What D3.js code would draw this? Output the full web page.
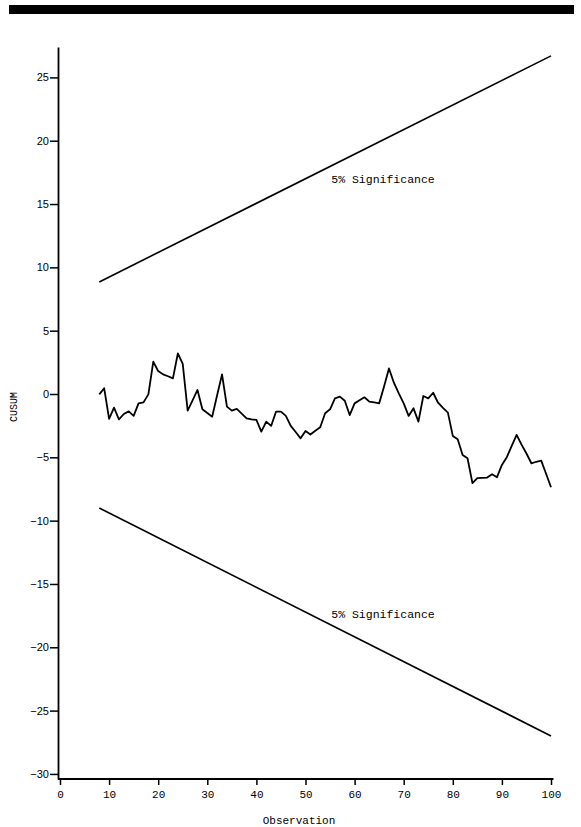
<!DOCTYPE html>
<html>
<head>
<meta charset="utf-8">
<script src="https://cdn.jsdelivr.net/npm/d3@7"></script>
<style>
  body { margin: 0; background: #fff; }
  svg { display: block; }
</style>
</head>
<body>
<svg id="area" width="581" height="827"></svg>
<script>
// observation numbers and CUSUM values
const observations = [
  8, 9, 10, 11, 12, 13, 14, 15, 16, 17, 18, 19, 20, 21, 22, 23, 24, 25, 26, 27,
  28, 29, 30, 31, 32, 33, 34, 35, 36, 37, 38, 39, 40, 41, 42, 43, 44, 45, 46, 47,
  48, 49, 50, 51, 52, 53, 54, 55, 56, 57, 58, 59, 60, 61, 62, 63, 64, 65, 66, 67,
  68, 69, 70, 71, 72, 73, 74, 75, 76, 77, 78, 79, 80, 81, 82, 83, 84, 85, 86, 87,
  88, 89, 90, 91, 92, 93, 94, 95, 96, 97, 98, 99, 100,
];
const cusum = [
  -0.03, 0.45, -1.97, -1.08, -2.0, -1.58, -1.37, -1.73, -0.74, -0.66,
  -0.03, 2.55, 1.81, 1.55, 1.4, 1.24, 3.2, 2.37, -1.31, -0.5,
  0.32, -1.21, -1.5, -1.79, -0.1, 1.55, -1.0, -1.31, -1.18, -1.55,
  -1.92, -2.0, -2.05, -2.97, -2.18, -2.52, -1.39, -1.39, -1.73, -2.52,
  -3.0, -3.5, -2.92, -3.2, -2.9, -2.63, -1.52, -1.21, -0.34, -0.21,
  -0.53, -1.66, -0.74, -0.5, -0.26, -0.6, -0.67, -0.74, 0.6, 2.02,
  0.89, 0.05, -0.74, -1.73, -1.13, -2.18, -0.16, -0.34, 0.1, -0.69,
  -1.1, -1.47, -3.31, -3.57, -4.81, -5.07, -7.04, -6.65, -6.62, -6.6,
  -6.33, -6.57, -5.6, -4.99, -4.1, -3.23, -4.0, -4.7, -5.47, -5.35,
  -5.26, -6.3, -7.36,
];

// 5% significance bounds (straight lines, end points)
const boundObs = [8, 100];
const upperBound = [8.85, 26.7];
const lowerBound = [-9.0, -27.0];

const xTicks = [0, 10, 20, 30, 40, 50, 60, 70, 80, 90, 100];
const yTicks = [-30, -25, -20, -15, -10, -5, 0, 5, 10, 15, 20, 25];

const svg = d3.select('#area');

// black bar across the top of the page
svg.append('rect')
  .attr('x', 9)
  .attr('y', 5)
  .attr('width', 565)
  .attr('height', 9)
  .attr('fill', '#000');

const x = d3.scaleLinear()
  .domain([0, 100])
  .range([60, 551]);
const y = d3.scaleLinear()
  .domain([-30.4, 27.4])
  .range([779, 47]);

const axisX = 58;
const axisY = 779;

// y axis
const yAxis = d3.axisLeft(y)
  .tickValues(yTicks)
  .tickSize(8)
  .tickSizeOuter(0)
  .tickFormat((d) => (d < 0 ? `\u2212${-d}` : `${d}`));

const gy = svg.append('g')
  .attr('transform', `translate(${axisX},0)`)
  .call(yAxis);
gy.select('.domain').attr('stroke-width', 1.8);
gy.selectAll('.tick line').attr('stroke-width', 1.5);
gy.selectAll('.tick text')
  .attr('x', -9)
  .style('font-family', '"Liberation Sans", Arial, sans-serif')
  .style('font-size', '11px')
  .attr('fill', '#000');

// x axis
const xAxis = d3.axisBottom(x)
  .tickValues(xTicks)
  .tickSize(6)
  .tickSizeOuter(0);

const gx = svg.append('g')
  .attr('transform', `translate(0,${axisY})`)
  .call(xAxis);
gx.select('.domain').remove();
gx.selectAll('.tick line').attr('stroke-width', 1.5);
gx.selectAll('.tick text')
  .attr('y', 11)
  .style('font-family', '"Liberation Mono", "DejaVu Sans Mono", monospace')
  .style('font-size', '11px')
  .attr('fill', '#000');

svg.append('line')
  .attr('x1', axisX)
  .attr('x2', x(100.5))
  .attr('y1', axisY)
  .attr('y2', axisY)
  .attr('stroke', '#000')
  .attr('stroke-width', 1.8);

// axis titles
svg.append('text')
  .attr('x', 299)
  .attr('y', 824)
  .attr('text-anchor', 'middle')
  .style('font-family', '"Liberation Mono", "DejaVu Sans Mono", monospace')
  .style('font-size', '11px')
  .text('Observation');

svg.append('text')
  .attr('transform', 'translate(17,407) rotate(-90)')
  .attr('text-anchor', 'middle')
  .style('font-family', '"Liberation Mono", "DejaVu Sans Mono", monospace')
  .style('font-size', '10px')
  .text('CUSUM');

// significance bounds
const line = d3.line()
  .x((d) => x(d[0]))
  .y((d) => y(d[1]));

[upperBound, lowerBound].forEach((b) => {
  svg.append('path')
    .attr('d', line(boundObs.map((o, i) => [o, b[i]])))
    .attr('fill', 'none')
    .attr('stroke', '#000')
    .attr('stroke-width', 1.6);
});

svg.append('text')
  .attr('x', 383)
  .attr('y', 183)
  .attr('text-anchor', 'middle')
  .style('font-family', '"Liberation Mono", "DejaVu Sans Mono", monospace')
  .style('font-size', '11.5px')
  .text('5% Significance');

svg.append('text')
  .attr('x', 383)
  .attr('y', 618)
  .attr('text-anchor', 'middle')
  .style('font-family', '"Liberation Mono", "DejaVu Sans Mono", monospace')
  .style('font-size', '11.5px')
  .text('5% Significance');

// CUSUM series
svg.append('path')
  .attr('d', line(observations.map((o, i) => [o, cusum[i]])))
  .attr('fill', 'none')
  .attr('stroke', '#000')
  .attr('stroke-width', 1.8)
  .attr('stroke-linejoin', 'round');
</script>
</body>
</html>
